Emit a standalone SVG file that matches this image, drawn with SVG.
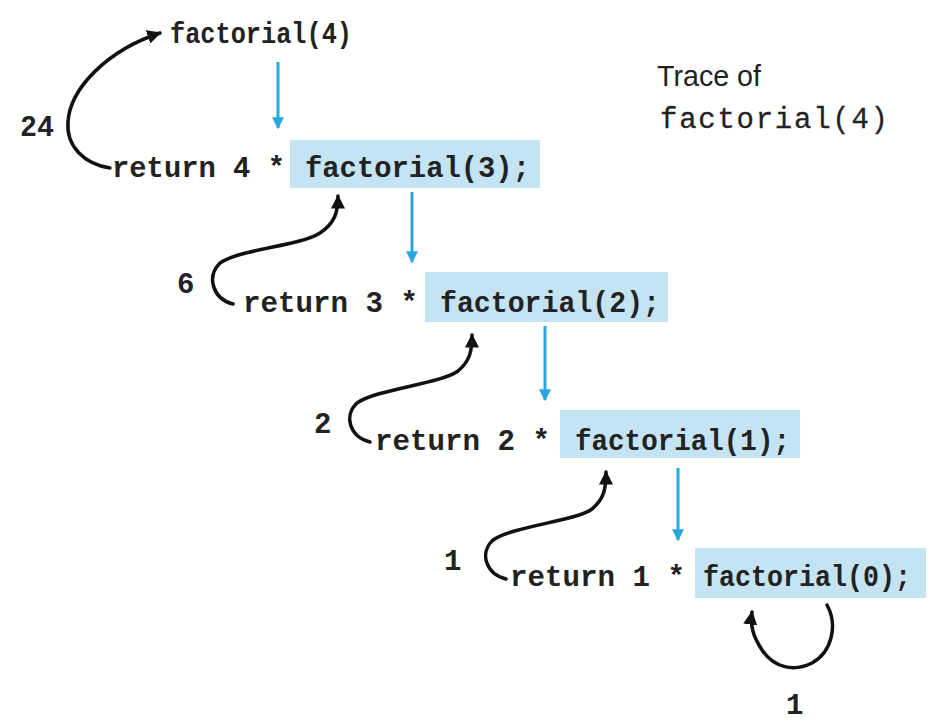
<svg xmlns="http://www.w3.org/2000/svg" width="928" height="727" viewBox="0 0 928 727">
<style>
.code{font-family:"Liberation Mono","DejaVu Sans Mono",monospace;font-size:29px;font-weight:bold;fill:#222}
.lbl{font-family:"Liberation Sans","DejaVu Sans",sans-serif;font-size:29px;fill:#222}
.hl{fill:#c4e4f4}
.blue{stroke:#2aa6e0;stroke-width:3;fill:none}
.ret{stroke:#111;stroke-width:3.5;fill:none;stroke-linecap:round}
</style>
<defs>
<marker id="ab" viewBox="0 0 10 10" refX="9" refY="5" markerWidth="4" markerHeight="6" orient="auto" markerUnits="strokeWidth">
<path d="M0,0 L10,5 L0,10 z" fill="#2aa6e0"/>
</marker>
<marker id="ak" viewBox="0 0 10 10" refX="9" refY="5" markerWidth="4" markerHeight="4" orient="auto" markerUnits="strokeWidth">
<path d="M0,0 L10,5 L0,10 z" fill="#111"/>
</marker>
</defs>
<g id="title">
<text class="lbl" x="657" y="86" textLength="104" lengthAdjust="spacingAndGlyphs">Trace of</text>
<text class="code" style="font-weight:normal;stroke:#222;stroke-width:0.3" x="660" y="128" textLength="228" lengthAdjust="spacing">factorial(4)</text>
</g>
<g id="call4">
<text class="code" x="170" y="43" textLength="182" lengthAdjust="spacingAndGlyphs">factorial(4)</text>
</g>
<g id="ret4">
<rect class="hl" x="290" y="140" width="250" height="48"/>
<text class="code" x="112" y="177" textLength="173" lengthAdjust="spacingAndGlyphs">return 4 *</text>
<text class="code" x="305" y="177" textLength="225" lengthAdjust="spacingAndGlyphs">factorial(3);</text>
</g>
<g id="ret3">
<rect class="hl" x="425" y="272" width="243" height="50"/>
<text class="code" x="243" y="312" textLength="175" lengthAdjust="spacingAndGlyphs">return 3 *</text>
<text class="code" x="440" y="312" textLength="220" lengthAdjust="spacingAndGlyphs">factorial(2);</text>
</g>
<g id="ret2">
<rect class="hl" x="560" y="410" width="240" height="48"/>
<text class="code" x="375" y="450" textLength="175" lengthAdjust="spacingAndGlyphs">return 2 *</text>
<text class="code" x="575" y="450" textLength="215" lengthAdjust="spacingAndGlyphs">factorial(1);</text>
</g>
<g id="ret1">
<rect class="hl" x="695" y="548" width="231" height="50"/>
<text class="code" x="703" y="586" textLength="208" lengthAdjust="spacingAndGlyphs">factorial(0);</text>
<text class="code" x="510" y="586" textLength="175" lengthAdjust="spacingAndGlyphs">return 1 *</text>
</g>
<g id="values">
<text class="code" x="20" y="136" textLength="34" lengthAdjust="spacingAndGlyphs">24</text>
<text class="code" x="177" y="293">6</text>
<text class="code" x="314" y="433">2</text>
<text class="code" x="444" y="570">1</text>
<text class="code" x="786" y="714">1</text>
</g>
<g id="connectors">
<line class="blue" x1="278" y1="62" x2="278" y2="128" marker-end="url(#ab)"/>
<line class="blue" x1="412" y1="192" x2="412" y2="262" marker-end="url(#ab)"/>
<line class="blue" x1="545" y1="326" x2="545" y2="400" marker-end="url(#ab)"/>
<line class="blue" x1="678" y1="468" x2="678" y2="540" marker-end="url(#ab)"/>
<path class="ret" d="M110 168 C84 164 66 146 68 122 C70 88 108 50 160 33" marker-end="url(#ak)"/>
<path class="ret" d="M233 304 C213 299 206 277 220 263 C240 249 300 246 320 233 C335 223 338 212 338 196" marker-end="url(#ak)"/>
<path class="ret" d="M370 442 C350 437 343 416 357 403 C377 389 440 384 458 371 C470 361 472 351 472 335" marker-end="url(#ak)"/>
<path class="ret" d="M506 579 C486 574 479 553 493 540 C513 526 576 521 592 509 C604 499 606 489 606 472" marker-end="url(#ak)"/>
<path class="ret" d="M827 605 C838 625 832 652 812 663 C794 672 774 668 762 650 C753 636 750 626 752 612" marker-end="url(#ak)"/>
</g>
</svg>
